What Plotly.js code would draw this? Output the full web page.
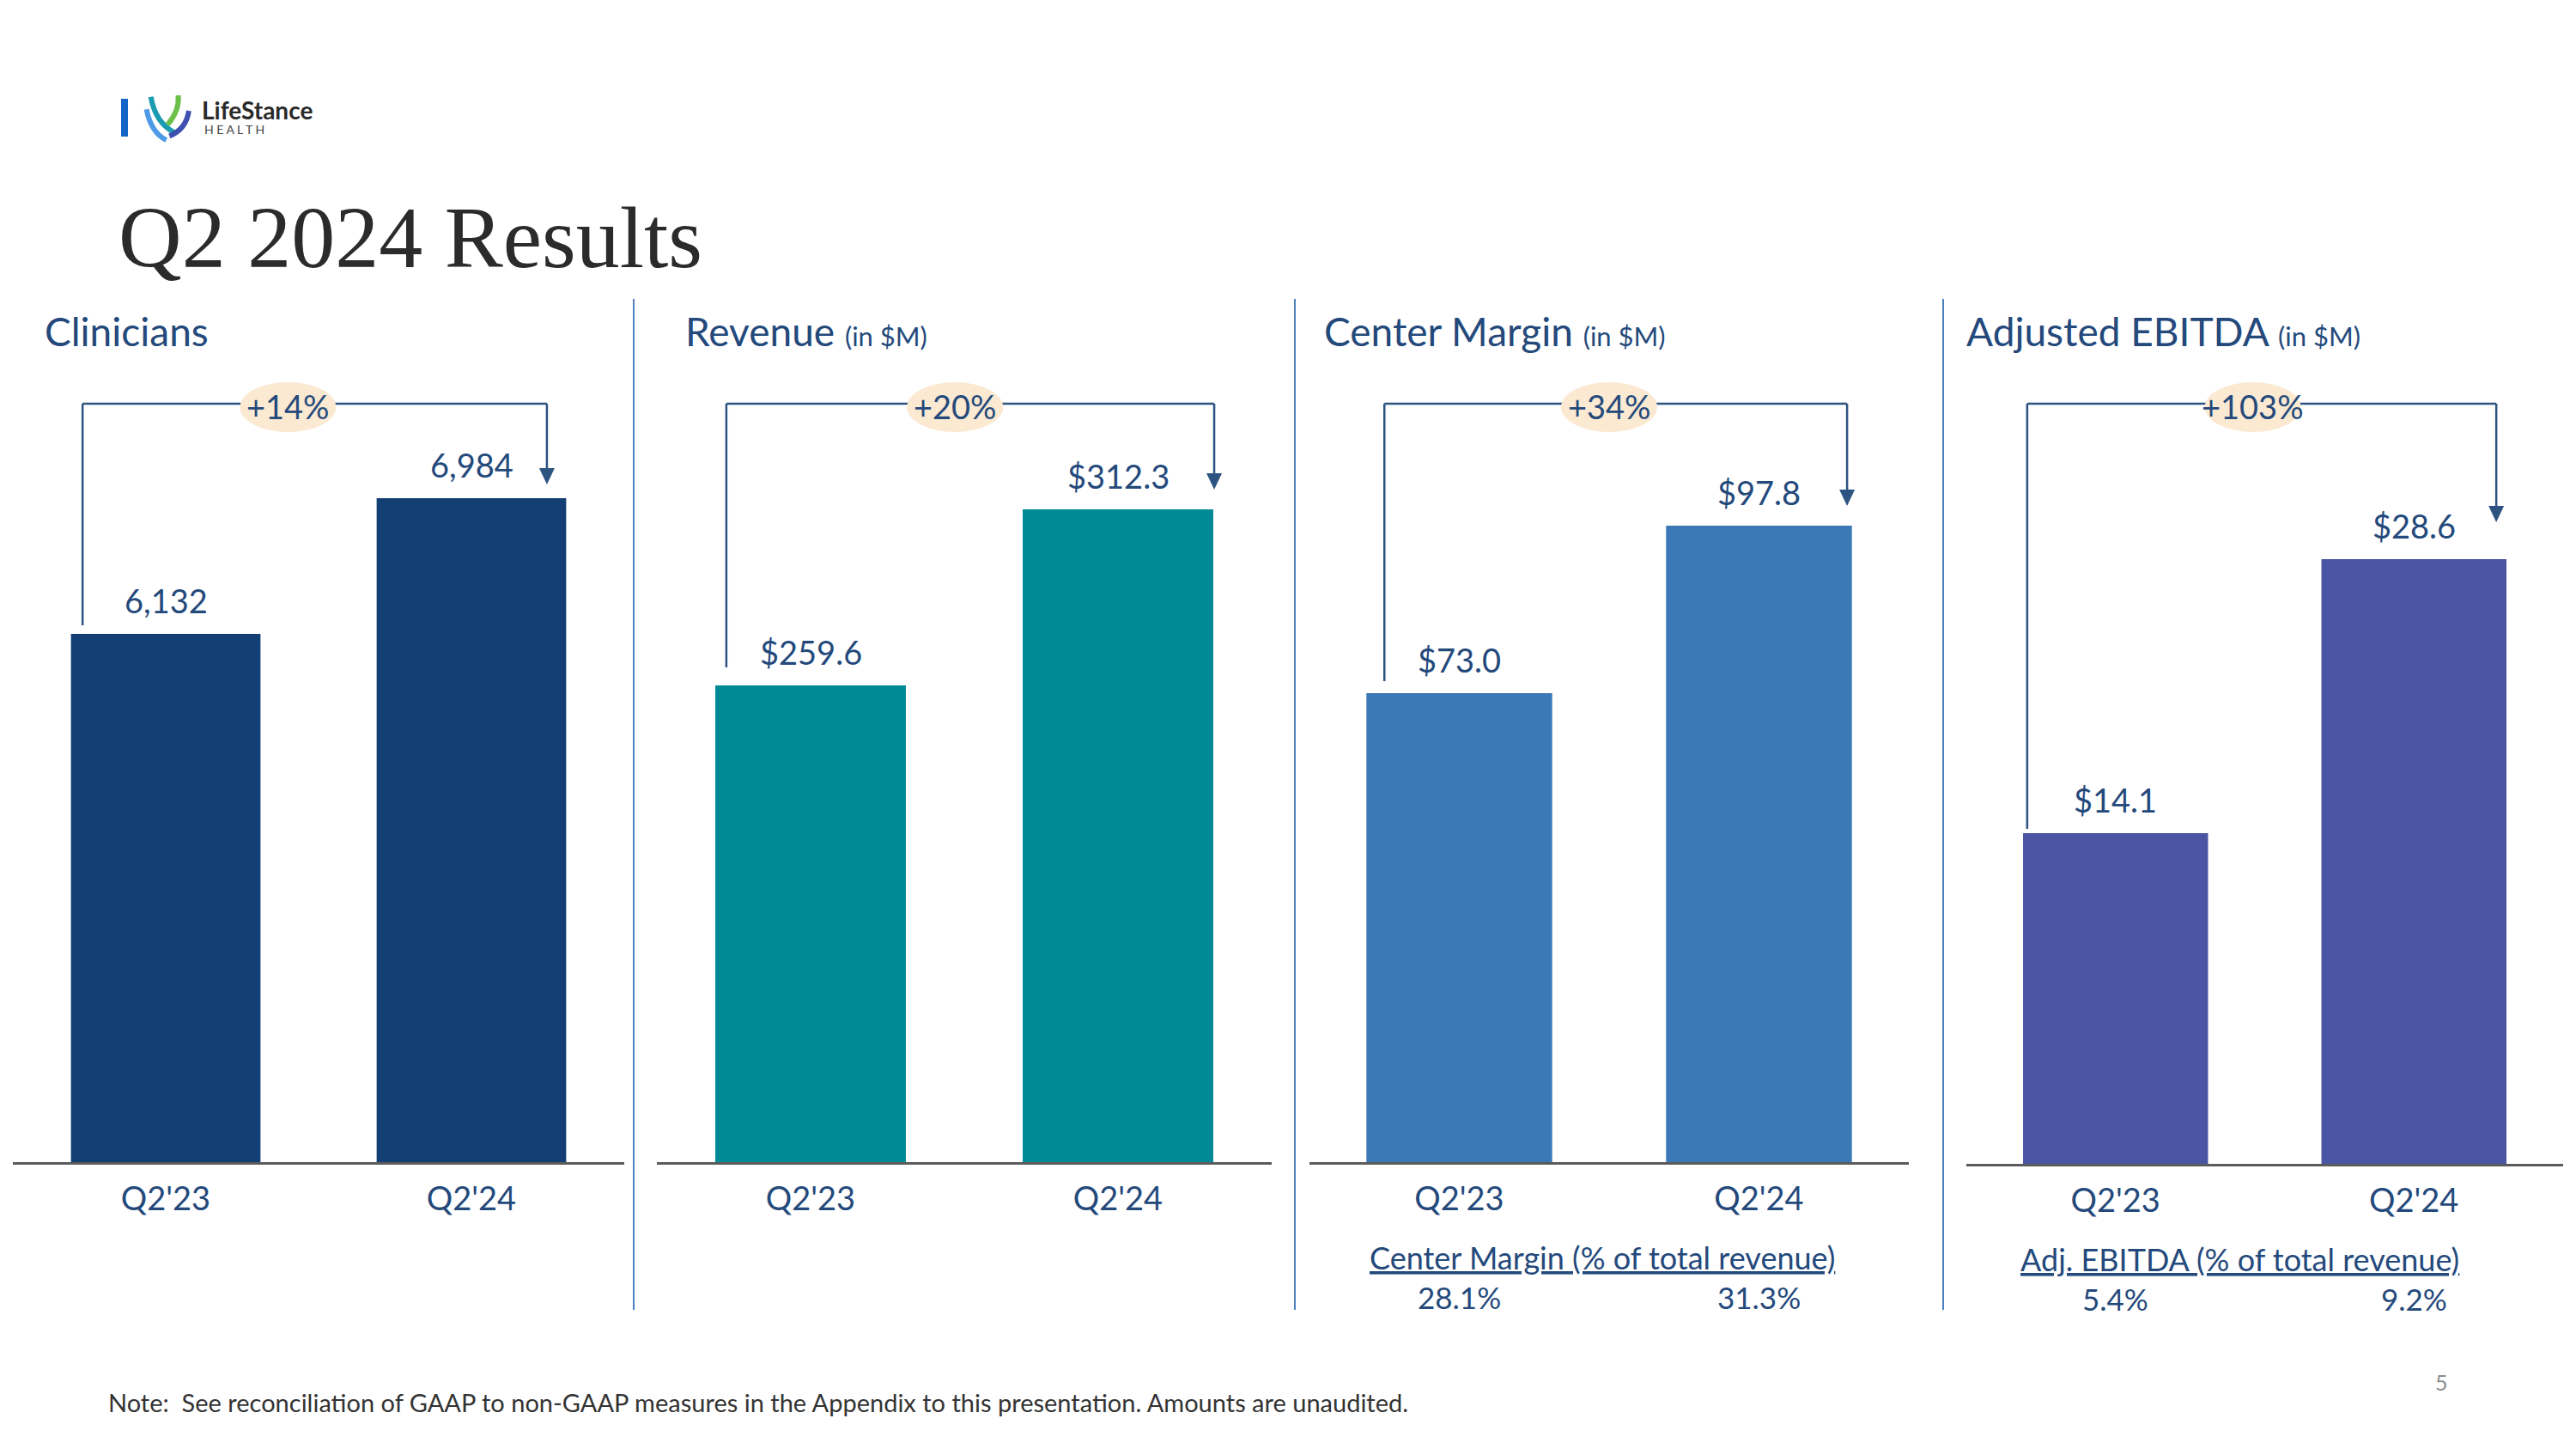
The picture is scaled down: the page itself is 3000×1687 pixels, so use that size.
<!DOCTYPE html>
<html>
<head>
<meta charset="utf-8">
<script src="https://cdn.plot.ly/plotly-3.0.1.min.js"></script>
<style>
html,body{margin:0;padding:0;background:#ffffff;}
#chart{width:3000px;height:1687px;}
</style>
</head>
<body>
<div id="chart"></div>
<script>
// ---------------- DATA ----------------
const categories = ["Q2'23", "Q2'24"];
const clinicians = [6132, 6984];
const revenue = [259.6, 312.3];
const centerMargin = [73.0, 97.8];
const adjEbitda = [14.1, 28.6];
const clinicianLabels = ["6,132", "6,984"];
const revenueLabels = ["$259.6", "$312.3"];
const centerMarginLabels = ["$73.0", "$97.8"];
const adjEbitdaLabels = ["$14.1", "$28.6"];
const growthLabels = ["+14%", "+20%", "+34%", "+103%"];
const centerMarginPct = ["28.1%", "31.3%"];
const adjEbitdaPct = ["5.4%", "9.2%"];
const panelTitles = ["Clinicians", "Revenue", "Center Margin", "Adjusted EBITDA"];
const panelUnits = ["", "(in $M)", "(in $M)", "(in $M)"];

// ---------------- LAYOUT HELPERS ----------------
const W = 3000, H = 1687;
const px = v => v / W;
const py = v => 1 - v / H;
const F = "Lato, 'Open Sans', sans-serif";
const TXT = "#24497b";
const BR = "#2d5381";
const TOP = 470;

const panels = [
  {vals: clinicians, labels: clinicianLabels, color: "#133f74", dom: [15, 727], bottom: 1353,
   type: "linear", range: [2815.7, 7577.0], titleX: 50, bl: -0.272, br: 0.247, sl: 10, sr: 16, gx: 0.40},
  {vals: revenue, labels: revenueLabels, color: "#008a96", dom: [765, 1481], bottom: 1353,
   type: "linear", range: [116.9, 343.9], titleX: 796, bl: -0.274, br: 0.313, sl: 21, sr: 23, gx: 0.47},
  {vals: centerMargin, labels: centerMarginLabels, color: "#3a78b6", dom: [1525, 2223], bottom: 1353,
   type: "linear", range: [3.56, 115.86], titleX: 1540, bl: -0.25, br: 0.294, sl: 14, sr: 23, gx: 0.50},
  {vals: adjEbitda, labels: adjEbitdaLabels, color: "#4a55a3", dom: [2290, 2985], bottom: 1355,
   type: "log", range: [0.7787, 1.6306], titleX: 2288, bl: -0.296, br: 0.276, sl: 5, sr: 43, gx: 0.46}
];

const traces = [];
const annotations = [];
const shapes = [];
const layout = {
  width: W, height: H,
  margin: {l: 0, r: 0, t: 0, b: 0},
  paper_bgcolor: "#ffffff",
  plot_bgcolor: "rgba(0,0,0,0)",
  font: {family: F, color: TXT},
  showlegend: false,
  bargap: 0.38,
  title: {
    text: "Q2 2024 Results",
    font: {family: "'Liberation Serif', 'DejaVu Serif', serif", size: 102, color: "#2b2b2b"},
    xref: "container", yref: "container",
    x: px(138), xanchor: "left",
    y: py(275), yanchor: "middle"
  }
};

const HEAD = 19;   // arrowhead length in px

panels.forEach((p, i) => {
  const n = i === 0 ? "" : String(i + 1);
  const xa = "x" + n, ya = "y" + n;
  const annY = v => p.type === "log" ? Math.log10(v) : v;   // annotation coords on log axes

  traces.push({
    type: "bar", x: categories, y: p.vals, xaxis: xa, yaxis: ya,
    marker: {color: p.color, line: {width: 0}},
    name: panelTitles[i], hoverinfo: "x+y"
  });

  layout["xaxis" + n] = {
    domain: [px(p.dom[0]), px(p.dom[1])], anchor: ya, type: "category",
    range: [-0.5, 1.5], showline: true, linecolor: "#5b5b5b", linewidth: 3,
    showgrid: false, zeroline: false, ticks: "", ticklabelstandoff: 7,
    tickfont: {family: F, size: 38, color: TXT}, fixedrange: true
  };
  layout["yaxis" + n] = {
    domain: [py(p.bottom), py(TOP)], anchor: xa, type: p.type, range: p.range,
    visible: false, showgrid: false, zeroline: false, fixedrange: true
  };

  // value labels above bars
  p.vals.forEach((v, j) => {
    annotations.push({
      xref: xa, yref: ya, x: j, y: annY(v), text: p.labels[j], showarrow: false,
      yanchor: "middle", yshift: 39, font: {family: F, size: 38, color: TXT}
    });
  });

  // bracket: horizontal line at top of plot area
  shapes.push({
    type: "line", xref: xa, yref: ya + " domain", x0: p.bl, x1: 1 + p.br, y0: 1, y1: 1,
    line: {color: BR, width: 2.5}
  });
  // left vertical: from just above bar 1 up to the bracket (clipped at plot top)
  shapes.push({
    type: "line", xref: xa, yref: ya, ysizemode: "pixel", yanchor: p.vals[0],
    x0: p.bl, x1: p.bl, y0: p.sl, y1: 2000,
    line: {color: BR, width: 2.5}
  });
  // right vertical down to arrowhead above bar 2
  shapes.push({
    type: "line", xref: xa, yref: ya, ysizemode: "pixel", yanchor: p.vals[1],
    x0: 1 + p.br, x1: 1 + p.br, y0: p.sr + HEAD - 2, y1: 2000,
    line: {color: BR, width: 2.5}
  });
  // arrowhead
  shapes.push({
    type: "path", xref: xa, yref: ya, xsizemode: "pixel", ysizemode: "pixel",
    xanchor: 1 + p.br, yanchor: p.vals[1],
    path: "M-9," + (p.sr + HEAD) + " L9," + (p.sr + HEAD) + " L0," + p.sr + " Z",
    fillcolor: BR, line: {width: 0}
  });
  // beige ellipse behind growth label
  shapes.push({
    type: "circle", xref: xa, yref: ya + " domain", xsizemode: "pixel", ysizemode: "pixel",
    xanchor: p.gx, yanchor: 1, x0: -56, x1: 56, y0: -33, y1: 25,
    fillcolor: "#fbe9d2", line: {width: 0}
  });
  // growth label
  annotations.push({
    xref: xa, yref: ya + " domain", x: p.gx, y: 1, yanchor: "middle", yshift: -3,
    text: growthLabels[i], showarrow: false, font: {family: F, size: 38, color: TXT}
  });

  // panel title
  const unit = panelUnits[i] ? ' <span style="font-size:31px">' + panelUnits[i] + '</span>' : '';
  annotations.push({
    xref: "paper", yref: "paper", x: px(p.titleX), y: py(386), xanchor: "left", yanchor: "middle",
    text: panelTitles[i] + unit, showarrow: false, font: {family: F, size: 46, color: TXT}
  });
});

// margin sub-tables
annotations.push({
  xref: "paper", yref: "paper", x: px(1866), y: py(1464), xanchor: "center", yanchor: "middle",
  text: "<u>Center Margin (% of total revenue)</u>", showarrow: false,
  font: {family: F, size: 36, color: TXT}
});
centerMarginPct.forEach((t, j) => annotations.push({
  xref: "x3", yref: "paper", x: j, y: py(1510), yanchor: "middle", text: t, showarrow: false,
  font: {family: F, size: 35, color: TXT}
}));
annotations.push({
  xref: "paper", yref: "paper", x: px(2608), y: py(1466), xanchor: "center", yanchor: "middle",
  text: "<u>Adj. EBITDA (% of total revenue)</u>", showarrow: false,
  font: {family: F, size: 36, color: TXT}
});
adjEbitdaPct.forEach((t, j) => annotations.push({
  xref: "x4", yref: "paper", x: j, y: py(1512), yanchor: "middle", text: t, showarrow: false,
  font: {family: F, size: 35, color: TXT}
}));

// vertical dividers
[738, 1508, 2263].forEach(x => shapes.push({
  type: "line", xref: "paper", yref: "paper", x0: px(x), x1: px(x), y0: py(348), y1: py(1525),
  line: {color: "#4f80c0", width: 2}
}));

// footnote + page number
annotations.push({
  xref: "paper", yref: "paper", x: px(124), y: py(1632), xanchor: "left", yanchor: "middle",
  text: "Note:\u00a0 See reconciliation of GAAP to non-GAAP measures in the Appendix to this presentation. Amounts are unaudited.",
  showarrow: false, font: {family: F, size: 29, color: "#333333"}
});
annotations.push({
  xref: "paper", yref: "paper", x: px(2843), y: py(1609), xanchor: "center", yanchor: "middle",
  text: "5", showarrow: false, font: {family: F, size: 25, color: "#8c8c8c"}
});

// logo
shapes.push({type: "rect", xref: "paper", yref: "paper", x0: px(141), x1: px(149), y0: py(159), y1: py(115),
  fillcolor: "#1565c8", line: {width: 0}});
const P = pts => pts.map((q, k) => (k === 0 ? "M" : (k === 1 ? "Q" : "")) + px(q[0]) + "," + py(q[1])).join(" ");
[
  {pts: [[170.6, 127.2], [175.7, 154.1], [193.7, 163.1]], c: "#4d9be6"},
  {pts: [[175.7, 112.8], [180.9, 143.3], [204.0, 154.8]], c: "#1a9bb0"},
  {pts: [[207.6, 111.0], [209.1, 129.0], [195.2, 145.1]], c: "#6cc04a"},
  {pts: [[219.9, 129.0], [216.8, 150.5], [197.3, 158.4]], c: "#3f4fb0"}
].forEach(s => shapes.push({type: "path", xref: "paper", yref: "paper", path: P(s.pts),
  line: {color: s.c, width: 6}}));
annotations.push({
  xref: "paper", yref: "paper", x: px(233), y: py(128), xanchor: "left", yanchor: "middle",
  text: "LifeStance", showarrow: false, font: {family: F, size: 28, color: "#2a2a2a", weight: 700}
});
annotations.push({
  xref: "paper", yref: "paper", x: px(236), y: py(150), xanchor: "left", yanchor: "middle",
  text: "H E A L T H", showarrow: false, font: {family: F, size: 14, color: "#444444"}
});

layout.annotations = annotations;
layout.shapes = shapes;

Plotly.newPlot("chart", traces, layout, {displayModeBar: false, staticPlot: true});
</script>
</body>
</html>
